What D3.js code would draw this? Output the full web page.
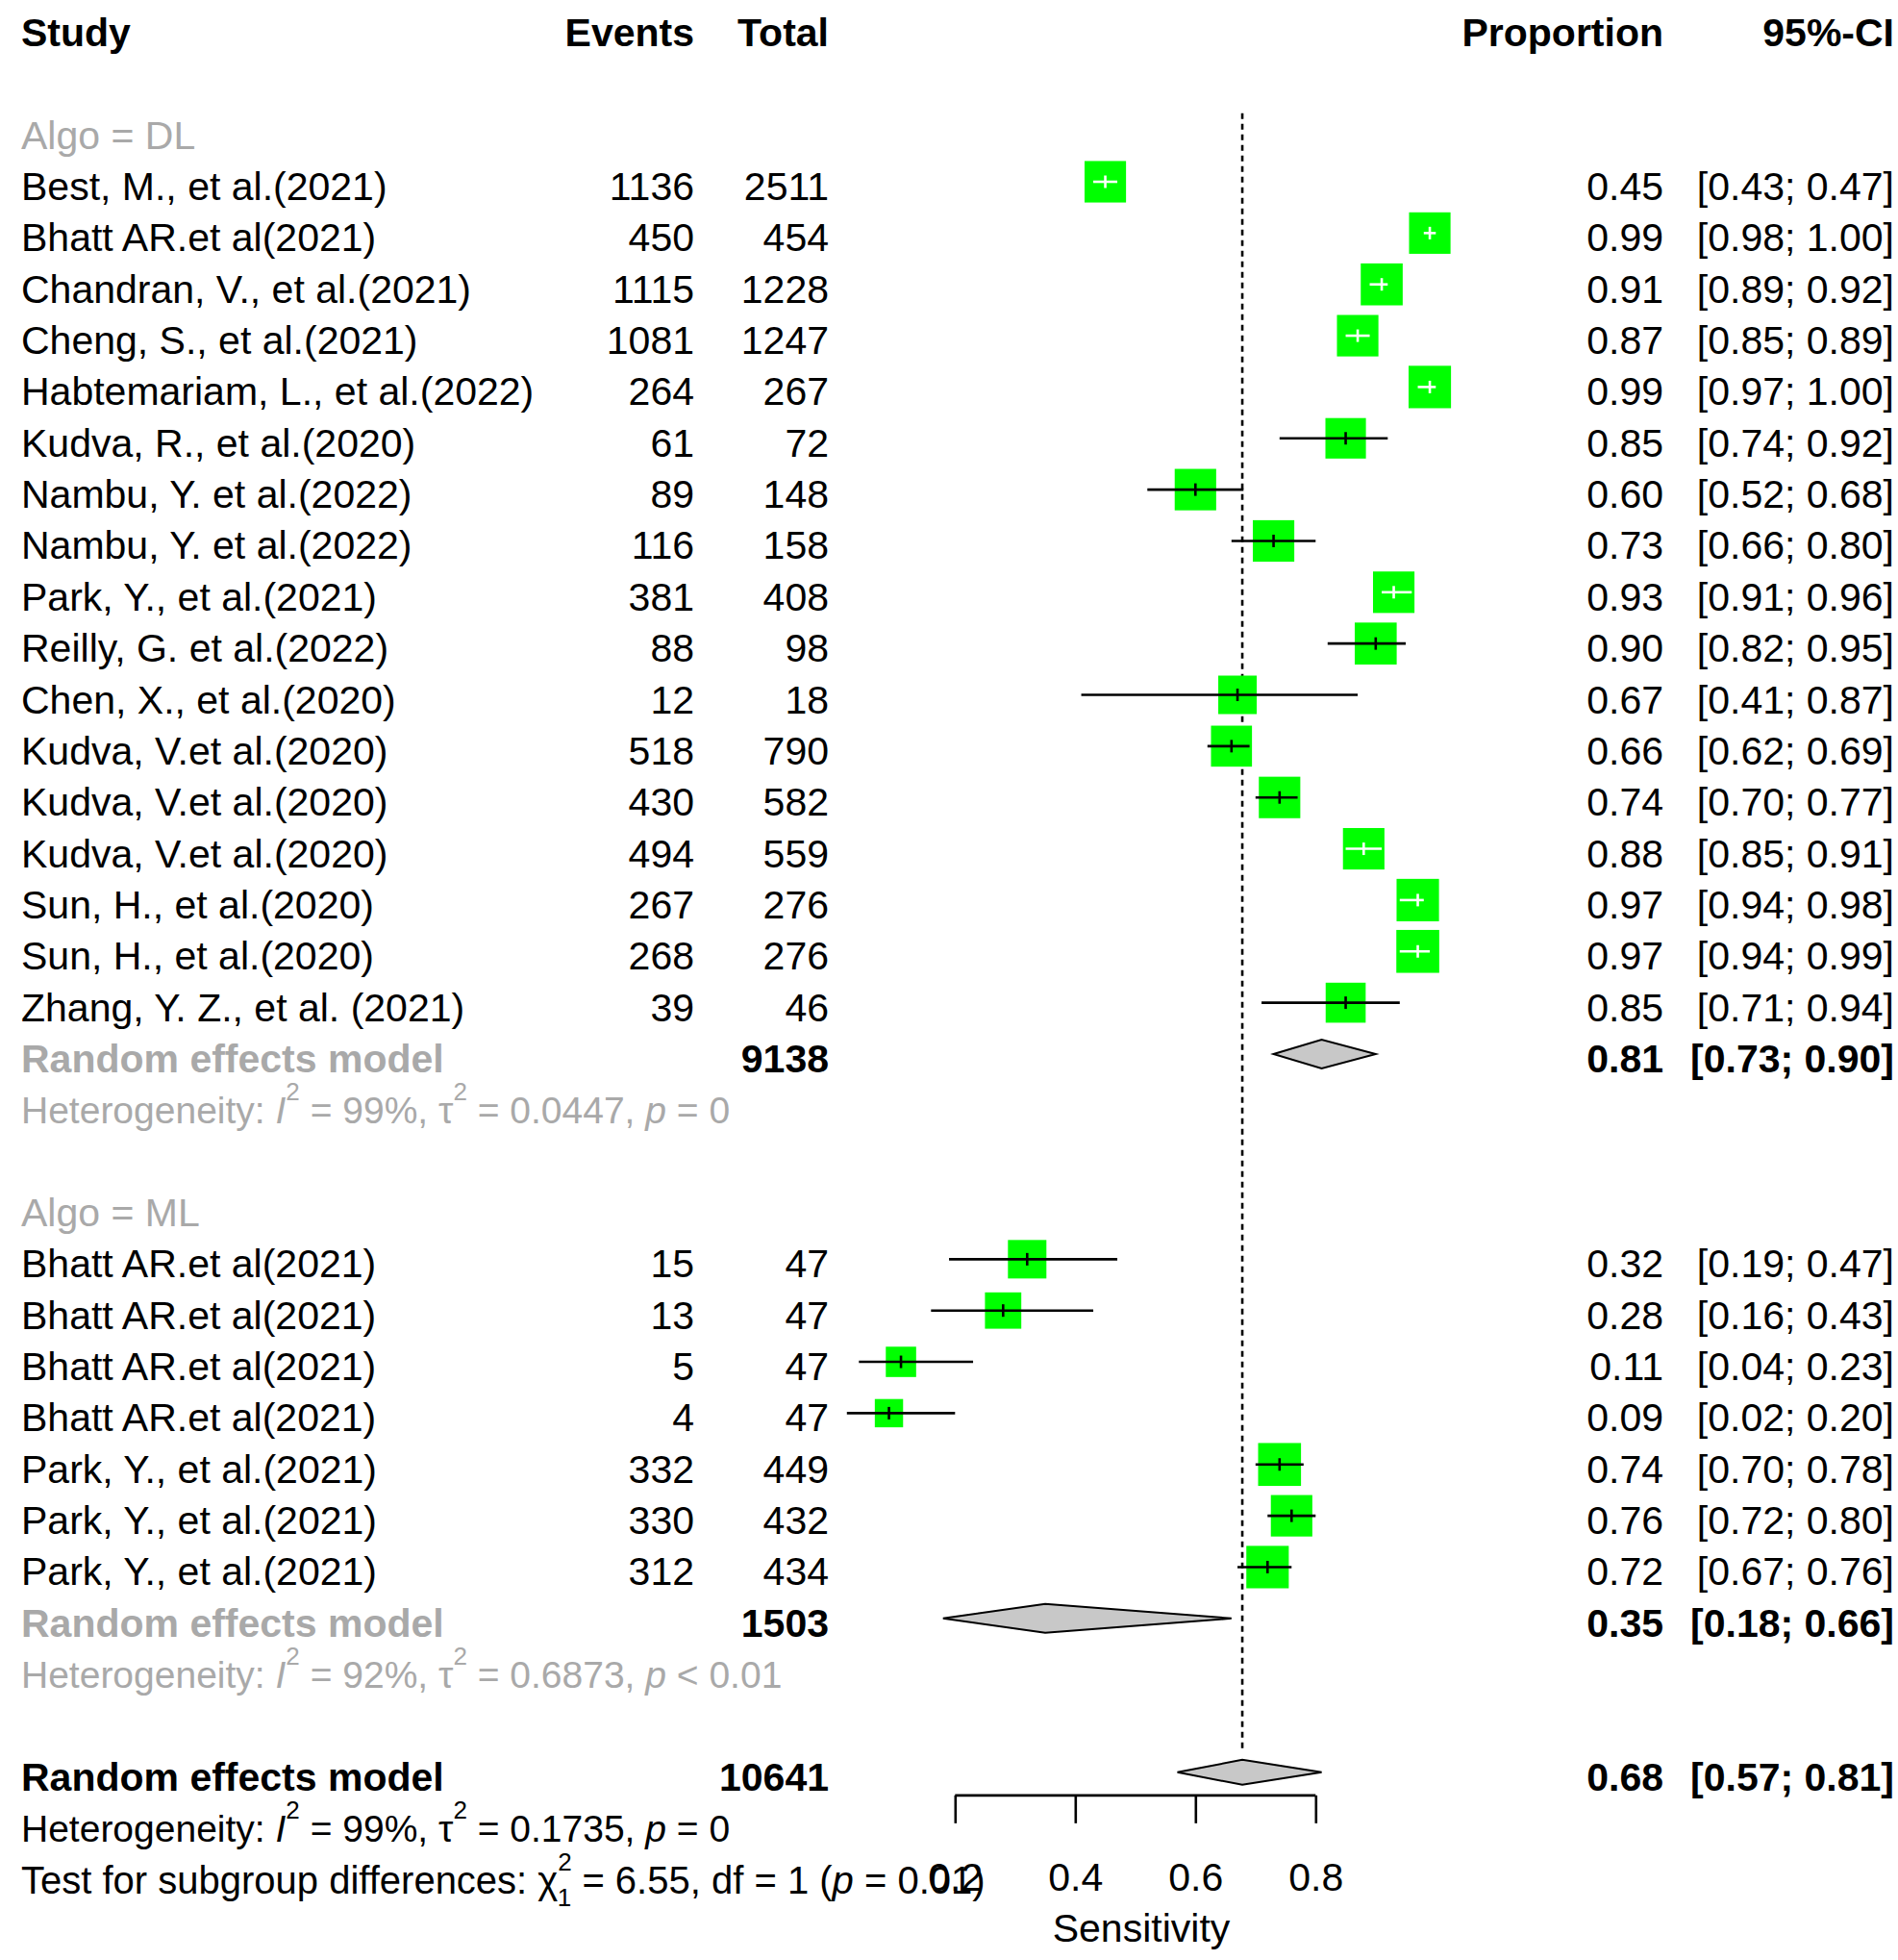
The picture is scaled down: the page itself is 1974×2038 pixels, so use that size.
<!DOCTYPE html>
<html>
<head>
<meta charset="utf-8">
<script src="https://cdn.jsdelivr.net/npm/d3@7"></script>
<style>
body { margin: 0; background: #fff; }
text { font-family: "Liberation Sans", Arial, sans-serif; font-size: 41px; }
</style>
</head>
<body>
<div id="container"></div>
<script>
// study level data
var studies = ['Best, M., et al.(2021)', 'Bhatt AR.et al(2021)', 'Chandran, V., et al.(2021)', 'Cheng, S., et al.(2021)',
    'Habtemariam, L., et al.(2022)', 'Kudva, R., et al.(2020)', 'Nambu, Y. et al.(2022)', 'Nambu, Y. et al.(2022)',
    'Park, Y., et al.(2021)', 'Reilly, G. et al.(2022)', 'Chen, X., et al.(2020)', 'Kudva, V.et al.(2020)',
    'Kudva, V.et al.(2020)', 'Kudva, V.et al.(2020)', 'Sun, H., et al.(2020)', 'Sun, H., et al.(2020)',
    'Zhang, Y. Z., et al. (2021)',
    'Bhatt AR.et al(2021)', 'Bhatt AR.et al(2021)', 'Bhatt AR.et al(2021)', 'Bhatt AR.et al(2021)',
    'Park, Y., et al.(2021)', 'Park, Y., et al.(2021)', 'Park, Y., et al.(2021)'];
var groups = ['DL','DL','DL','DL','DL','DL','DL','DL','DL','DL','DL','DL','DL','DL','DL','DL','DL',
    'ML','ML','ML','ML','ML','ML','ML'];
var events = [1136, 450, 1115, 1081, 264, 61, 89, 116, 381, 88, 12, 518, 430, 494, 267, 268, 39,
    15, 13, 5, 4, 332, 330, 312];
var totals = [2511, 454, 1228, 1247, 267, 72, 148, 158, 408, 98, 18, 790, 582, 559, 276, 276, 46,
    47, 47, 47, 47, 449, 432, 434];
var props = [0.45, 0.99, 0.91, 0.87, 0.99, 0.85, 0.60, 0.73, 0.93, 0.90, 0.67, 0.66, 0.74, 0.88, 0.97, 0.97, 0.85,
    0.32, 0.28, 0.11, 0.09, 0.74, 0.76, 0.72];
var lowers = [0.43, 0.98, 0.89, 0.85, 0.97, 0.74, 0.52, 0.66, 0.91, 0.82, 0.41, 0.62, 0.70, 0.85, 0.94, 0.94, 0.71,
    0.19, 0.16, 0.04, 0.02, 0.70, 0.72, 0.67];
var uppers = [0.47, 1.00, 0.92, 0.89, 1.00, 0.92, 0.68, 0.80, 0.96, 0.95, 0.87, 0.69, 0.77, 0.91, 0.98, 0.99, 0.94,
    0.47, 0.43, 0.23, 0.20, 0.78, 0.80, 0.76];
// approximate random effects weights (%), judged from square sizes
var weights = [4.3, 4.3, 4.4, 4.3, 4.5, 4.1, 4.3, 4.3, 4.3, 4.4, 3.7, 4.2, 4.3, 4.3, 4.5, 4.6, 4.0,
    3.7, 3.3, 2.3, 2.0, 4.6, 4.3, 4.5];

// subgroup summaries
var subgroups = ['DL', 'ML'];
var subTotals = [9138, 1503];
var subEst = [0.81, 0.35];
var subLower = [0.73, 0.18];
var subUpper = [0.90, 0.66];
var subI2 = ['99%', '92%'];
var subTau2 = ['0.0447', '0.6873'];
var subP = ['= 0', '< 0.01'];

// overall
var overallTotal = 10641;
var overallEst = 0.678, overallLower = 0.57, overallUpper = 0.81;
var overallI2 = '99%', overallTau2 = '0.1735', overallP = '= 0';
var testChi2 = '6.55', testDf = '1', testP = '= 0.01';

var tickValues = [0.2, 0.4, 0.6, 0.8];
var headers = ['Study', 'Events', 'Total', 'Proportion', '95%-CI'];

var W = 1974, H = 2038;
var grey = '#a9a9a9';
var colX = {study: 22, events: 722, total: 862, prop: 1730, ci: 1970};

var svg = d3.select('#container').append('svg')
    .attr('width', W)
    .attr('height', H)

var x = d3.scaleLinear().domain([0, 1]).range([868.3, 1493.3]);
var y = d3.scaleLinear().domain([0, 33]).range([189, 189 + 33 * 53.35]);
var boxSize = function(w) { return 20.8 * Math.sqrt(w) }
var base = function(r) { return y(r) + 19 }
var fmt = function(v) { return v.toFixed(2) }
var ciText = function(l, u) { return '[' + fmt(l) + '; ' + fmt(u) + ']' }

// assign rows
var rows = [];
var r = -1;
subgroups.forEach(function(sg, gi) {
    rows.push({type: 'label', row: r, text: 'Algo = ' + sg});
    r++;
    studies.forEach(function(s, i) {
        if (groups[i] != sg) return;
        rows.push({type: 'study', row: r, i: i});
        r++;
    })
    rows.push({type: 'sub', row: r, g: gi}); r++;
    rows.push({type: 'subhet', row: r, g: gi}); r += 2;
})
var overallRow = r;

var txt = function(xx, row, s, anchor, opts) {
    opts = opts || {}
    return svg.append('text')
        .attr('x', xx)
        .attr('y', base(row))
        .attr('text-anchor', anchor || 'start')
        .attr('fill', opts.fill || '#000')
        .style('font-weight', opts.bold ? 'bold' : 'normal')
        .text(s)
}

var richText = function(xx, row, parts, fill, size) {
    size = size || 41
    var t = svg.append('text').attr('x', xx).attr('y', base(row)).attr('fill', fill)
        .style('font-size', size + 'px');
    var shift = 0;
    parts.forEach(function(p) {
        var target = p.sup ? -24 : p.sub ? 13 : 0;
        var s = t.append('tspan').attr('dy', target - shift).text(p.t);
        if (p.dx) s.attr('dx', p.dx);
        if (p.sup || p.sub) s.style('font-size', Math.round(size * 0.66) + 'px');
        if (p.i) s.style('font-style', 'italic');
        shift = target;
    })
    return t;
}

var hetParts = function(i2, tau2, p) {
    return [{t: 'Heterogeneity: '}, {t: 'I', i: 1}, {t: '2', sup: 1}, {t: ' = ' + i2 + ', τ'},
        {t: '2', sup: 1}, {t: ' = ' + tau2 + ', '}, {t: 'p', i: 1}, {t: ' ' + p}];
}

var diamond = function(row, est, lo, hi, h) {
    var cy = y(row);
    svg.append('path')
        .attr('d', 'M' + x(lo) + ',' + cy + 'L' + x(est) + ',' + (cy - h) + 'L' + x(hi) + ',' + cy +
            'L' + x(est) + ',' + (cy + h) + 'Z')
        .attr('fill', '#c8c8c8')
        .attr('stroke', '#000')
        .attr('stroke-width', 2)
}

// reference line at the pooled estimate
svg.append('line')
    .attr('x1', x(overallEst)).attr('x2', x(overallEst))
    .attr('y1', y(-1) - 18).attr('y2', y(overallRow) - 20)
    .attr('stroke', '#000')
    .attr('stroke-width', 2.6)
    .attr('stroke-dasharray', '6,5')

// headers
txt(colX.study, -3, headers[0], 'start', {bold: true});
txt(colX.events, -3, headers[1], 'end', {bold: true});
txt(colX.total, -3, headers[2], 'end', {bold: true});
txt(colX.prop, -3, headers[3], 'end', {bold: true});
txt(colX.ci, -3, headers[4], 'end', {bold: true});

rows.forEach(function(d) {
    if (d.type == 'label') {
        txt(colX.study, d.row, d.text, 'start', {fill: grey});
    } else if (d.type == 'study') {
        var i = d.i, cy = y(d.row), s = boxSize(weights[i]);
        txt(colX.study, d.row, studies[i]);
        txt(colX.events, d.row, events[i], 'end');
        txt(colX.total, d.row, totals[i], 'end');
        txt(colX.prop, d.row, fmt(props[i]), 'end');
        txt(colX.ci, d.row, ciText(lowers[i], uppers[i]), 'end');

        svg.append('rect')
            .attr('x', x(props[i]) - s / 2)
            .attr('y', cy - s / 2)
            .attr('width', s)
            .attr('height', s)
            .attr('fill', '#00ff00')
        var inside = (x(uppers[i]) - x(lowers[i])) < s;
        var col = inside ? '#fff' : '#000';
        svg.append('line')
            .attr('x1', x(lowers[i])).attr('x2', x(uppers[i]))
            .attr('y1', cy).attr('y2', cy)
            .attr('stroke', col).attr('stroke-width', 2.6)
        svg.append('line')
            .attr('x1', x(props[i])).attr('x2', x(props[i]))
            .attr('y1', cy - 6.5).attr('y2', cy + 6.5)
            .attr('stroke', col).attr('stroke-width', 2.6)
    } else if (d.type == 'sub') {
        var g = d.g;
        txt(colX.study, d.row, 'Random effects model', 'start', {fill: grey, bold: true});
        txt(colX.total, d.row, subTotals[g], 'end', {bold: true});
        txt(colX.prop, d.row, fmt(subEst[g]), 'end', {bold: true});
        txt(colX.ci, d.row, ciText(subLower[g], subUpper[g]), 'end', {bold: true});
        diamond(d.row, subEst[g], subLower[g], subUpper[g], 15);
    } else if (d.type == 'subhet') {
        richText(colX.study, d.row, hetParts(subI2[d.g], subTau2[d.g], subP[d.g]), grey, 39);
    }
})

// overall
txt(colX.study, overallRow, 'Random effects model', 'start', {bold: true});
txt(colX.total, overallRow, overallTotal, 'end', {bold: true});
txt(colX.prop, overallRow, fmt(overallEst), 'end', {bold: true});
txt(colX.ci, overallRow, ciText(overallLower, overallUpper), 'end', {bold: true});
diamond(overallRow, overallEst, overallLower, overallUpper, 13);
richText(colX.study, overallRow + 1, hetParts(overallI2, overallTau2, overallP), '#000', 39);
richText(colX.study, overallRow + 2, [{t: 'Test for subgroup differences: χ'}, {t: '2', sup: 1},
    {t: '1', sub: 1, dx: -15}, {t: ' = ' + testChi2 + ', df = ' + testDf + ' ('}, {t: 'p', i: 1},
    {t: ' ' + testP + ')'}], '#000', 40);

// x axis
var axisY = y(overallRow) + 24;
var xa = d3.scaleLinear().domain([tickValues[0], tickValues[tickValues.length - 1]])
    .range([x(tickValues[0]), x(tickValues[tickValues.length - 1])]);
var axis = svg.append('g')
    .attr('transform', 'translate(0,' + axisY + ')')
    .call(d3.axisBottom(xa).tickValues(tickValues).tickSize(29).tickSizeOuter(0)
        .tickFormat(d3.format('.1f')))
axis.select('.domain').attr('stroke-width', 2.6).attr('d', 'M' + xa.range()[0] + ',0H' + xa.range()[1])
axis.selectAll('.tick line').attr('stroke-width', 2.6)
axis.selectAll('.tick text')
    .attr('y', 99).attr('dy', null)
    .attr('fill', '#000')
    .style('font-size', '41px')
    .style('font-family', '"Liberation Sans", Arial, sans-serif')

svg.append('text')
    .attr('x', 1187)
    .attr('y', axisY + 152)
    .attr('text-anchor', 'middle')
    .text('Sensitivity')
</script>
</body>
</html>
